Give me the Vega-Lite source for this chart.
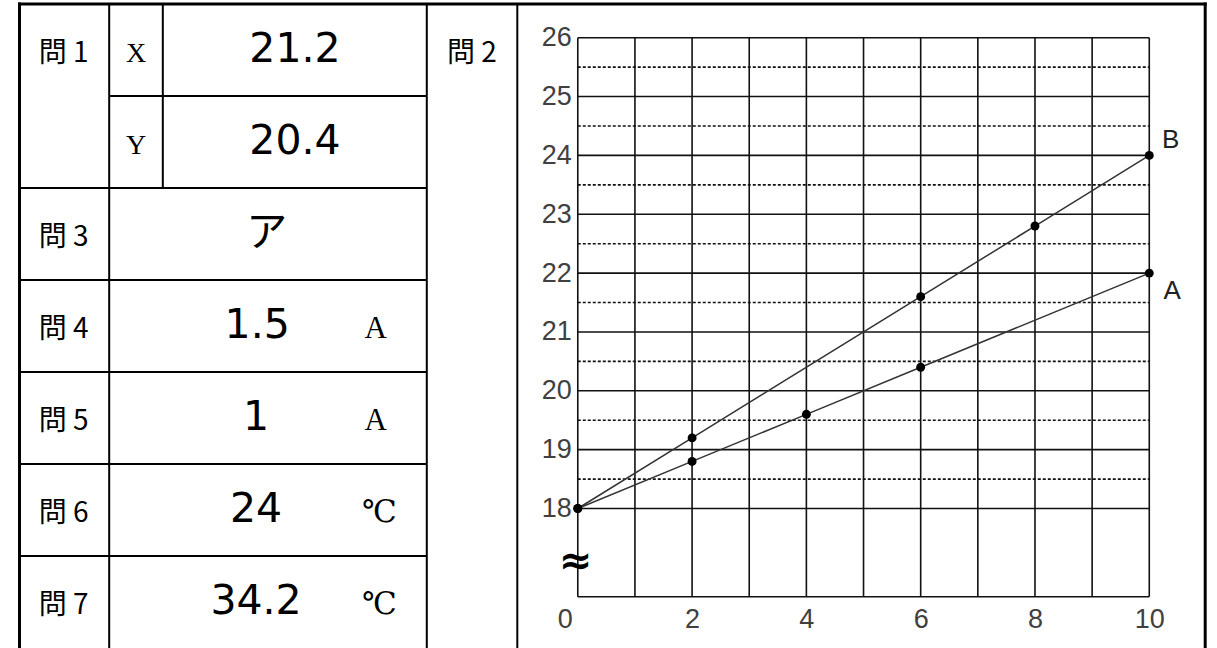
{
  "$schema": "https://vega.github.io/schema/vega-lite/v6.json",
  "width": 1217,
  "height": 648,
  "padding": 0,
  "autosize": {"type": "none"},
  "background": "white",
  "config": {"view": {"stroke": null}},
  "datasets": {
    "tableLines": [
      {"x": 0, "x2": 100, "y": 0, "y2": 0, "role": "outer"},
      {"x": 0, "x2": 0, "y": 0, "y2": 7, "role": "outer"},
      {"x": 100, "x2": 100, "y": 0, "y2": 7, "role": "outer"},
      {"x": 7.565, "x2": 34.351, "y": 1, "y2": 1, "role": "inner"},
      {"x": 0, "x2": 34.351, "y": 2, "y2": 2, "role": "inner"},
      {"x": 0, "x2": 34.351, "y": 3, "y2": 3, "role": "inner"},
      {"x": 0, "x2": 34.351, "y": 4, "y2": 4, "role": "inner"},
      {"x": 0, "x2": 34.351, "y": 5, "y2": 5, "role": "inner"},
      {"x": 0, "x2": 34.351, "y": 6, "y2": 6, "role": "inner"},
      {"x": 7.565, "x2": 7.565, "y": 0, "y2": 7, "role": "inner"},
      {"x": 12.086, "x2": 12.086, "y": 0, "y2": 2, "role": "inner"},
      {"x": 34.351, "x2": 34.351, "y": 0, "y2": 7, "role": "inner"},
      {"x": 41.984, "x2": 41.984, "y": 0, "y2": 7, "role": "inner"}
    ],
    "tableText": [
      {"text": "問 1", "role": "q", "x": 3.72, "row": 0.5},
      {"text": "問 2", "role": "q", "x": 38.163, "row": 0.5},
      {"text": "問 3", "role": "q", "x": 3.72, "row": 2.5},
      {"text": "問 4", "role": "q", "x": 3.72, "row": 3.5},
      {"text": "問 5", "role": "q", "x": 3.72, "row": 4.5},
      {"text": "問 6", "role": "q", "x": 3.72, "row": 5.5},
      {"text": "問 7", "role": "q", "x": 3.72, "row": 6.5},
      {"text": "X", "role": "var", "x": 9.825, "row": 0.5},
      {"text": "Y", "role": "var", "x": 9.825, "row": 1.5},
      {"text": "21.2", "role": "ans", "x": 23.235, "row": 0.5},
      {"text": "20.4", "role": "ans", "x": 23.235, "row": 1.5},
      {"text": "ア", "role": "ans", "x": 20.85, "row": 2.5},
      {"text": "1.5", "role": "ans", "x": 20.05, "row": 3.5},
      {"text": "1", "role": "ans", "x": 19.95, "row": 4.5},
      {"text": "24", "role": "ans", "x": 19.95, "row": 5.5},
      {"text": "34.2", "role": "ans", "x": 19.95, "row": 6.5},
      {"text": "A", "role": "unit", "x": 30.03, "row": 3.5},
      {"text": "A", "role": "unit", "x": 30.03, "row": 4.5},
      {"text": "℃", "role": "unit", "x": 30.36, "row": 5.5},
      {"text": "℃", "role": "unit", "x": 30.36, "row": 6.5}
    ],
    "vgrid": [{"t": 0}, {"t": 1}, {"t": 2}, {"t": 3}, {"t": 4}, {"t": 5}, {"t": 6}, {"t": 7}, {"t": 8}, {"t": 9}, {"t": 10}],
    "hgrid": [{"temp": 16.5}, {"temp": 18}, {"temp": 19}, {"temp": 20}, {"temp": 21}, {"temp": 22}, {"temp": 23}, {"temp": 24}, {"temp": 25}, {"temp": 26}],
    "hhalf": [{"temp": 18.5}, {"temp": 19.5}, {"temp": 20.5}, {"temp": 21.5}, {"temp": 22.5}, {"temp": 23.5}, {"temp": 24.5}, {"temp": 25.5}],
    "obs": [
      {"series": "A", "t": 0, "temp": 18},
      {"series": "A", "t": 2, "temp": 18.8},
      {"series": "A", "t": 4, "temp": 19.6},
      {"series": "A", "t": 6, "temp": 20.4},
      {"series": "A", "t": 10, "temp": 22},
      {"series": "B", "t": 0, "temp": 18},
      {"series": "B", "t": 2, "temp": 19.2},
      {"series": "B", "t": 6, "temp": 21.6},
      {"series": "B", "t": 8, "temp": 22.8},
      {"series": "B", "t": 10, "temp": 24}
    ],
    "brk": [{"t": 0, "temp": 17.15, "sym": "≈"}]
  },
  "resolve": {"scale": {"x": "independent", "y": "independent"}, "axis": {"x": "independent", "y": "independent"}},
  "layer": [
    {
      "layer": [
        {
          "data": {"name": "tableLines"},
          "transform": [{"filter": "datum.role === 'inner'"}],
          "mark": {"type": "rule", "stroke": "#000000", "strokeWidth": 2},
          "encoding": {
            "x": {"field": "x", "type": "quantitative", "scale": {"domain": [-1.6446, 100.995], "nice": false, "zero": false}, "axis": null},
            "x2": {"field": "x2"},
            "y": {"field": "y", "type": "quantitative", "scale": {"domain": [-0.0435, 7], "reverse": true, "nice": false, "zero": false}, "axis": null},
            "y2": {"field": "y2"}
          }
        },
        {
          "data": {"name": "tableLines"},
          "transform": [{"filter": "datum.role === 'outer'"}],
          "mark": {"type": "rule", "stroke": "#000000", "strokeWidth": 3, "strokeCap": "square"},
          "encoding": {
            "x": {"field": "x", "type": "quantitative", "scale": {"domain": [-1.6446, 100.995], "nice": false, "zero": false}, "axis": null},
            "x2": {"field": "x2"},
            "y": {"field": "y", "type": "quantitative", "scale": {"domain": [-0.0435, 7], "reverse": true, "nice": false, "zero": false}, "axis": null},
            "y2": {"field": "y2"}
          }
        },
        {
          "data": {"name": "tableText"},
          "transform": [{"filter": "datum.role === 'q'"}],
          "mark": {"type": "text", "font": "Noto Sans CJK JP", "fontSize": 28, "color": "#000000", "align": "center", "baseline": "alphabetic", "dy": 12},
          "encoding": {
            "x": {"field": "x", "type": "quantitative", "scale": {"domain": [-1.6446, 100.995], "nice": false, "zero": false}, "axis": null},
            "y": {"field": "row", "type": "quantitative", "scale": {"domain": [-0.0435, 7], "reverse": true, "nice": false, "zero": false}, "axis": null},
            "text": {"field": "text"}
          }
        },
        {
          "data": {"name": "tableText"},
          "transform": [{"filter": "datum.role === 'var'"}],
          "mark": {"type": "text", "font": "Liberation Serif", "fontSize": 28, "color": "#000000", "align": "center", "baseline": "alphabetic", "dy": 12},
          "encoding": {
            "x": {"field": "x", "type": "quantitative", "scale": {"domain": [-1.6446, 100.995], "nice": false, "zero": false}, "axis": null},
            "y": {"field": "row", "type": "quantitative", "scale": {"domain": [-0.0435, 7], "reverse": true, "nice": false, "zero": false}, "axis": null},
            "text": {"field": "text"}
          }
        },
        {
          "data": {"name": "tableText"},
          "transform": [{"filter": "datum.role === 'ans'"}],
          "mark": {"type": "text", "font": "DejaVu Sans, Noto Sans CJK JP", "fontSize": 41, "color": "#000000", "align": "center", "baseline": "alphabetic", "dy": 12},
          "encoding": {
            "x": {"field": "x", "type": "quantitative", "scale": {"domain": [-1.6446, 100.995], "nice": false, "zero": false}, "axis": null},
            "y": {"field": "row", "type": "quantitative", "scale": {"domain": [-0.0435, 7], "reverse": true, "nice": false, "zero": false}, "axis": null},
            "text": {"field": "text"}
          }
        },
        {
          "data": {"name": "tableText"},
          "transform": [{"filter": "datum.role === 'unit'"}],
          "mark": {"type": "text", "font": "Liberation Serif, DejaVu Serif, serif", "fontSize": 31, "color": "#000000", "align": "center", "baseline": "alphabetic", "dy": 12},
          "encoding": {
            "x": {"field": "x", "type": "quantitative", "scale": {"domain": [-1.6446, 100.995], "nice": false, "zero": false}, "axis": null},
            "y": {"field": "row", "type": "quantitative", "scale": {"domain": [-0.0435, 7], "reverse": true, "nice": false, "zero": false}, "axis": null},
            "text": {"field": "text"}
          }
        }
      ]
    },
    {
      "layer": [
        {
          "data": {"name": "vgrid"},
          "mark": {"type": "rule", "stroke": "#111111", "strokeWidth": 1.6},
          "encoding": {
            "x": {
              "field": "t", "type": "quantitative",
              "scale": {"domain": [-10.11, 11.185], "nice": false, "zero": false},
              "axis": {
                "values": [0, 2, 4, 6, 8, 10], "format": "d", "orient": "bottom", "offset": -51.5,
                "domain": false, "ticks": false, "grid": false, "title": null,
                "labelPadding": 10, "labelFont": "Liberation Sans", "labelFontSize": 27,
                "labelColor": "#404040", "labelFlush": false, "labelOverlap": false,
                "labelOffset": {"condition": {"test": "datum.value === 0", "value": -13}, "value": 0}
              }
            },
            "y": {
              "datum": 16.5, "type": "quantitative",
              "scale": {"domain": [15.6296, 26.6406], "nice": false, "zero": false},
              "axis": {
                "values": [18, 19, 20, 21, 22, 23, 24, 25, 26], "format": "d", "orient": "left", "offset": -577.8,
                "domain": false, "ticks": false, "grid": false, "title": null,
                "labelPadding": 6.5, "labelFont": "Liberation Sans", "labelFontSize": 27,
                "labelColor": "#404040", "labelOverlap": false
              }
            },
            "y2": {"datum": 26}
          }
        },
        {
          "data": {"name": "hgrid"},
          "mark": {"type": "rule", "stroke": "#111111", "strokeWidth": 1.6},
          "encoding": {
            "x": {"datum": 0, "type": "quantitative", "scale": {"domain": [-10.11, 11.185], "nice": false, "zero": false}, "title": null},
            "x2": {"datum": 10},
            "y": {"field": "temp", "type": "quantitative", "scale": {"domain": [15.6296, 26.6406], "nice": false, "zero": false}, "title": null}
          }
        },
        {
          "data": {"name": "hhalf"},
          "mark": {"type": "rule", "stroke": "#111111", "strokeWidth": 1.6, "strokeDash": [3, 2]},
          "encoding": {
            "x": {"datum": 0, "type": "quantitative", "scale": {"domain": [-10.11, 11.185], "nice": false, "zero": false}, "title": null},
            "x2": {"datum": 10},
            "y": {"field": "temp", "type": "quantitative", "scale": {"domain": [15.6296, 26.6406], "nice": false, "zero": false}, "title": null}
          }
        },
        {
          "data": {"name": "obs"},
          "mark": {"type": "line", "stroke": "#333333", "strokeWidth": 1.5},
          "encoding": {
            "x": {"field": "t", "type": "quantitative", "scale": {"domain": [-10.11, 11.185], "nice": false, "zero": false}, "title": null},
            "y": {"field": "temp", "type": "quantitative", "scale": {"domain": [15.6296, 26.6406], "nice": false, "zero": false}, "title": null},
            "detail": {"field": "series"}
          }
        },
        {
          "data": {"name": "obs"},
          "mark": {"type": "point", "filled": true, "color": "#000000", "opacity": 1, "size": 80},
          "encoding": {
            "x": {"field": "t", "type": "quantitative", "scale": {"domain": [-10.11, 11.185], "nice": false, "zero": false}, "title": null},
            "y": {"field": "temp", "type": "quantitative", "scale": {"domain": [15.6296, 26.6406], "nice": false, "zero": false}, "title": null}
          }
        },
        {
          "data": {"name": "obs"},
          "transform": [{"filter": "datum.t === 10 && datum.series === 'B'"}],
          "mark": {"type": "text", "font": "Liberation Sans", "fontSize": 26, "color": "#222222", "align": "center", "baseline": "middle", "dx": 21.5, "dy": -15},
          "encoding": {
            "x": {"field": "t", "type": "quantitative", "scale": {"domain": [-10.11, 11.185], "nice": false, "zero": false}, "title": null},
            "y": {"field": "temp", "type": "quantitative", "scale": {"domain": [15.6296, 26.6406], "nice": false, "zero": false}, "title": null},
            "text": {"field": "series"}
          }
        },
        {
          "data": {"name": "obs"},
          "transform": [{"filter": "datum.t === 10 && datum.series === 'A'"}],
          "mark": {"type": "text", "font": "Liberation Sans", "fontSize": 26, "color": "#222222", "align": "center", "baseline": "middle", "dx": 23, "dy": 17.5},
          "encoding": {
            "x": {"field": "t", "type": "quantitative", "scale": {"domain": [-10.11, 11.185], "nice": false, "zero": false}, "title": null},
            "y": {"field": "temp", "type": "quantitative", "scale": {"domain": [15.6296, 26.6406], "nice": false, "zero": false}, "title": null},
            "text": {"field": "series"}
          }
        },
        {
          "data": {"name": "brk"},
          "mark": {"type": "text", "font": "DejaVu Sans", "fontWeight": "bold", "fontSize": 40, "color": "#000000", "align": "center", "baseline": "middle", "dx": -2, "dy": 3},
          "encoding": {
            "x": {"field": "t", "type": "quantitative", "scale": {"domain": [-10.11, 11.185], "nice": false, "zero": false}, "title": null},
            "y": {"field": "temp", "type": "quantitative", "scale": {"domain": [15.6296, 26.6406], "nice": false, "zero": false}, "title": null},
            "text": {"field": "sym"}
          }
        }
      ]
    }
  ]
}
